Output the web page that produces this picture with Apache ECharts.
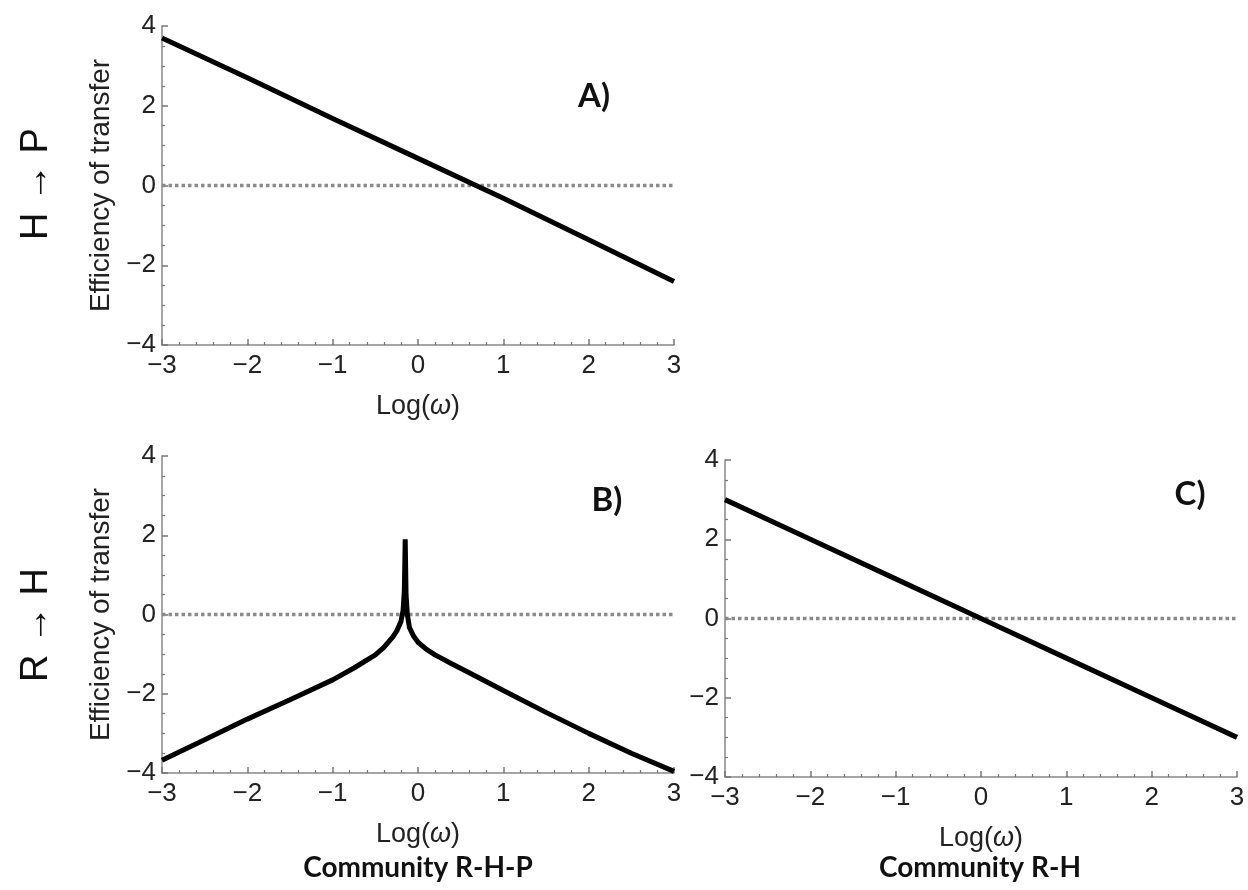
<!DOCTYPE html>
<html>
<head>
<meta charset="UTF-8">
<script type="text/javascript" src="https://cdn.jsdelivr.net/npm/echarts@6/dist/echarts.min.js"></script>
<style>
  body { margin: 0; background: #fff; }
  #chartmain { width: 1248px; height: 890px; }
</style>
</head>
<body>
<div id="chartmain"></div>
<script type="text/javascript">
// tick values
var xTicks = [-3, -2, -1, 0, 1, 2, 3];
var yTicks = [-4, -2, 0, 2, 4];

// panel A : H -> P, community R-H-P
var logW_A = [-3, -2, -1, 0, 1, 2, 3];
var eff_A  = [3.70, 2.70, 1.68, 0.68, -0.32, -1.36, -2.41];

// panel B : R -> H, community R-H-P (sharp peak near -0.15)
var logW_B = [-3, -2.5, -2, -1.5, -1, -0.75, -0.5, -0.4, -0.3, -0.25, -0.2, -0.175, -0.16, -0.15,
              -0.14, -0.125, -0.1, -0.05, 0, 0.1, 0.2, 0.4, 0.6, 1, 1.5, 2, 2.5, 3];
var eff_B  = [-3.68, -3.16, -2.64, -2.15, -1.65, -1.35, -1.02, -0.83, -0.58, -0.42, -0.18, 0.1, 0.6, 1.9,
              0.5, 0.0, -0.33, -0.55, -0.7, -0.88, -1.02, -1.25, -1.47, -1.92, -2.47, -3.0, -3.5, -3.96];

// panel C : R -> H, community R-H
var logW_C = [-3, -2, -1, 0, 1, 2, 3];
var eff_C  = [3.0, 2.0, 1.0, 0.0, -1.0, -2.0, -3.0];

// zero reference line
var zeroX = [-3, 3];
var zeroY = [0, 0];

function pairs(xs, ys) {
	var out = [];
	for (var i = 0; i < xs.length; i++) out.push([xs[i], ys[i]]);
	return out;
}
function minus(v) { return String(v).replace('-', '\u2212'); }

var tickFont = { fontFamily: 'Liberation Sans', fontSize: 26, color: '#222' };
var nameRich = {
	a: { fontFamily: 'Liberation Sans', fontSize: 27, color: '#222' },
	b: { fontFamily: 'Liberation Sans', fontSize: 27, color: '#222', fontStyle: 'italic' }
};

function makeX(grid) {
	return {
		type: 'value', gridIndex: grid,
		min: xTicks[0], max: xTicks[xTicks.length - 1], interval: 1,
		name: '{a|Log(}{b|\u03c9}{a|)}', nameLocation: 'middle', nameGap: 48,
		nameTextStyle: { rich: nameRich },
		axisLine: { onZero: false, lineStyle: { color: '#888', width: 1.5 } },
		axisTick: { inside: true, length: 6, lineStyle: { color: '#777', width: 1.5 } },
		minorTick: { show: true, splitNumber: 5, length: 3, lineStyle: { color: '#777', width: 1.2 } },
		axisLabel: Object.assign({ margin: 8, formatter: minus, showMinLabel: true, showMaxLabel: true }, tickFont),
		splitLine: { show: false }
	};
}
function makeY(grid, withName) {
	return {
		type: 'value', gridIndex: grid,
		min: yTicks[0], max: yTicks[yTicks.length - 1], interval: 2,
		name: withName ? 'Efficiency of transfer' : '',
		nameLocation: 'middle', nameRotate: 90, nameGap: 47,
		nameTextStyle: { fontFamily: 'Liberation Sans', fontSize: 28, color: '#222' },
		axisLine: { show: true, onZero: false, lineStyle: { color: '#888', width: 1.5 } },
		axisTick: { show: true, inside: true, length: 6, lineStyle: { color: '#777', width: 1.5 } },
		minorTick: { show: true, splitNumber: 4, length: 3, lineStyle: { color: '#777', width: 1.2 } },
		axisLabel: Object.assign({ margin: 6, formatter: minus, showMinLabel: true, showMaxLabel: true }, tickFont),
		splitLine: { show: false }
	};
}
function curve(idx, xs, ys) {
	return {
		type: 'line', xAxisIndex: idx, yAxisIndex: idx, data: pairs(xs, ys),
		showSymbol: false, silent: true, z: 3,
		lineStyle: { color: '#000', width: 5 }
	};
}
function zero(idx) {
	return {
		type: 'line', xAxisIndex: idx, yAxisIndex: idx, data: pairs(zeroX, zeroY),
		showSymbol: false, silent: true, z: 2,
		lineStyle: { color: '#8a8a8a', width: 3.5, type: [3.5, 3] }
	};
}
function txt(x, y, s, font, rot) {
	return {
		type: 'text', x: x, y: y, rotation: rot || 0,
		style: { text: s, font: font, fill: '#111', align: 'center', verticalAlign: 'middle' }
	};
}

var letterFont = 'bold 33px Lato';
var commFont = 'bold 28px Lato';
var rowFont = '38px "Liberation Sans"';
var option = {
	animation: false,
	grid: [
		{ left: 162, top: 26, width: 512, height: 319 },
		{ left: 162, top: 456, width: 512, height: 317 },
		{ left: 725, top: 460, width: 512, height: 317 }
	],
	xAxis: [makeX(0), makeX(1), makeX(2)],
	yAxis: [makeY(0, true), makeY(1, true), makeY(2, false)],
	series: [
		zero(0), curve(0, logW_A, eff_A),
		zero(1), curve(1, logW_B, eff_B),
		zero(2), curve(2, logW_C, eff_C)
	],
	graphic: [
		txt(37, 184, 'H \u2192 P', rowFont, Math.PI / 2),
		txt(37, 625, 'R \u2192 H', rowFont, Math.PI / 2),
		txt(594, 96, 'A)', letterFont),
		txt(607, 500, 'B)', letterFont),
		txt(1190, 494, 'C)', letterFont),
		txt(418, 868, 'Community R-H-P', commFont),
		txt(980, 868, 'Community R-H', commFont)
	]
};

var myChart = echarts.init(document.getElementById('chartmain'));
myChart.setOption(option);
</script>
</body>
</html>
